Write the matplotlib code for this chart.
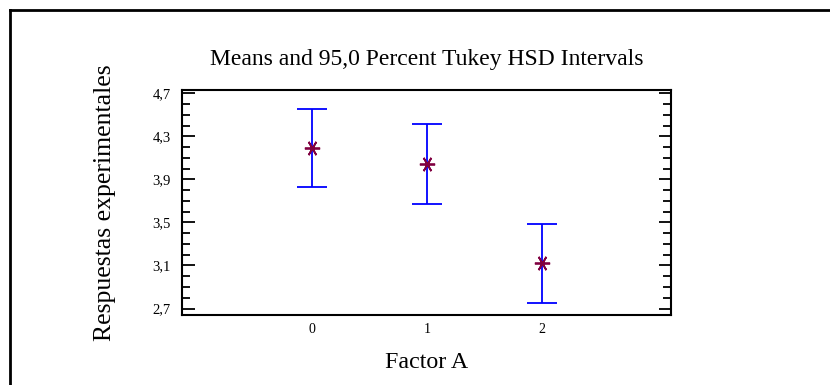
import matplotlib
matplotlib.use("Agg")
import matplotlib.pyplot as plt
from matplotlib.lines import Line2D
from matplotlib.ticker import MultipleLocator

# values
levels = [0, 1, 2]
level_labels = ["0", "1", "2"]
means = [4.19, 4.04, 3.12]
half_width = [0.365, 0.370, 0.367]
ytick_vals = [2.7, 3.1, 3.5, 3.9, 4.3, 4.7]
ytick_labels = ["2,7", "3,1", "3,5", "3,9", "4,3", "4,7"]

plt.rcParams['font.family'] = ['Liberation Serif', 'DejaVu Serif']

W, H = 830, 385
fig = plt.figure(figsize=(W / 100, H / 100), dpi=100)
ax = fig.add_axes([182 / W, 1 - 315 / H, (671 - 182) / W, (315 - 90) / H])

ax.errorbar(levels, means, yerr=half_width, fmt='none', ecolor='#0000ff',
            elinewidth=1.3, capsize=11, capthick=1.3)
ax.plot(levels, means, linestyle='none', marker=(6, 2, 90), markersize=11,
        color='#800040', markeredgewidth=1.3)

ax.set_xlim(-1.13, 3.12)
ax.set_ylim(2.64, 4.73)
ax.set_xticks(levels)
ax.set_xticklabels(level_labels, fontsize=10)
ax.set_yticks(ytick_vals)
ax.set_yticklabels(ytick_labels, fontsize=10.5)
ax.yaxis.set_minor_locator(MultipleLocator(0.1))
ax.tick_params(axis='y', which='major', direction='in', length=9, width=1.3,
               left=True, right=True, pad=8)
ax.tick_params(axis='y', which='minor', direction='in', length=6, width=1.3,
               left=True, right=True)
ax.tick_params(axis='x', which='major', length=0, pad=6)
for s in ax.spines.values():
    s.set_linewidth(1.5)

ax.set_title("Means and 95,0 Percent Tukey HSD Intervals", fontsize=17, pad=18)
ax.set_ylabel("Respuestas experimentales", fontsize=18.5, labelpad=26)
ax.set_xlabel("Factor A", fontsize=17.3, labelpad=11)

# outer frame (only top and left edges visible)
fig.add_artist(Line2D([10 / W, 1], [1 - 10 / H, 1 - 10 / H], color='black', lw=2,
                      transform=fig.transFigure))
fig.add_artist(Line2D([10 / W, 10 / W], [0, 1 - 10 / H], color='black', lw=2,
                      transform=fig.transFigure))

fig.savefig("out.png", dpi=100)
